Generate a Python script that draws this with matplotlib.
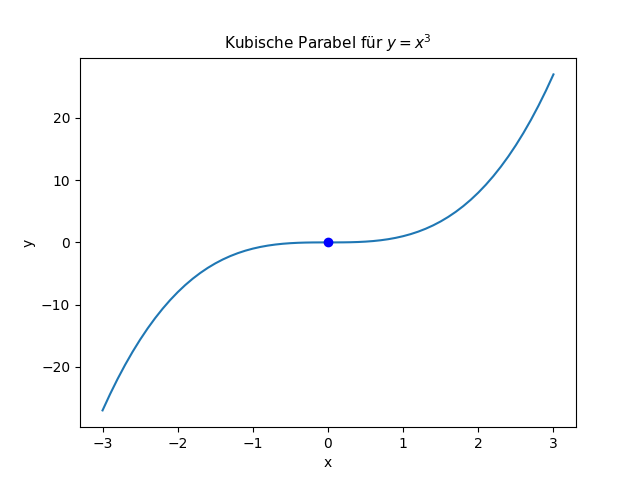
import matplotlib
matplotlib.use("Agg")
import matplotlib.pyplot as plt

x_values = [-3.0, -2.9, -2.8, -2.7, -2.6, -2.5, -2.4, -2.3, -2.2, -2.1,
            -2.0, -1.9, -1.8, -1.7, -1.6, -1.5, -1.4, -1.3, -1.2, -1.1,
            -1.0, -0.9, -0.8, -0.7, -0.6, -0.5, -0.4, -0.3, -0.2, -0.1,
            0.0, 0.1, 0.2, 0.3, 0.4, 0.5, 0.6, 0.7, 0.8, 0.9,
            1.0, 1.1, 1.2, 1.3, 1.4, 1.5, 1.6, 1.7, 1.8, 1.9,
            2.0, 2.1, 2.2, 2.3, 2.4, 2.5, 2.6, 2.7, 2.8, 2.9, 3.0]
y_values = [-27.0, -24.389, -21.952, -19.683, -17.576, -15.625, -13.824, -12.167, -10.648, -9.261,
            -8.0, -6.859, -5.832, -4.913, -4.096, -3.375, -2.744, -2.197, -1.728, -1.331,
            -1.0, -0.729, -0.512, -0.343, -0.216, -0.125, -0.064, -0.027, -0.008, -0.001,
            0.0, 0.001, 0.008, 0.027, 0.064, 0.125, 0.216, 0.343, 0.512, 0.729,
            1.0, 1.331, 1.728, 2.197, 2.744, 3.375, 4.096, 4.913, 5.832, 6.859,
            8.0, 9.261, 10.648, 12.167, 13.824, 15.625, 17.576, 19.683, 21.952, 24.389, 27.0]
point_x = [0.0]
point_y = [0.0]

fig, ax = plt.subplots(figsize=(6.4, 4.8), dpi=100)
ax.plot(x_values, y_values, color="#1f77b4")
ax.plot(point_x, point_y, "bo")
ax.set_title("Kubische Parabel für $y = x^3$", fontsize=11)
ax.set_xlabel("x")
ax.set_ylabel("y")
fig.savefig("out.png")
